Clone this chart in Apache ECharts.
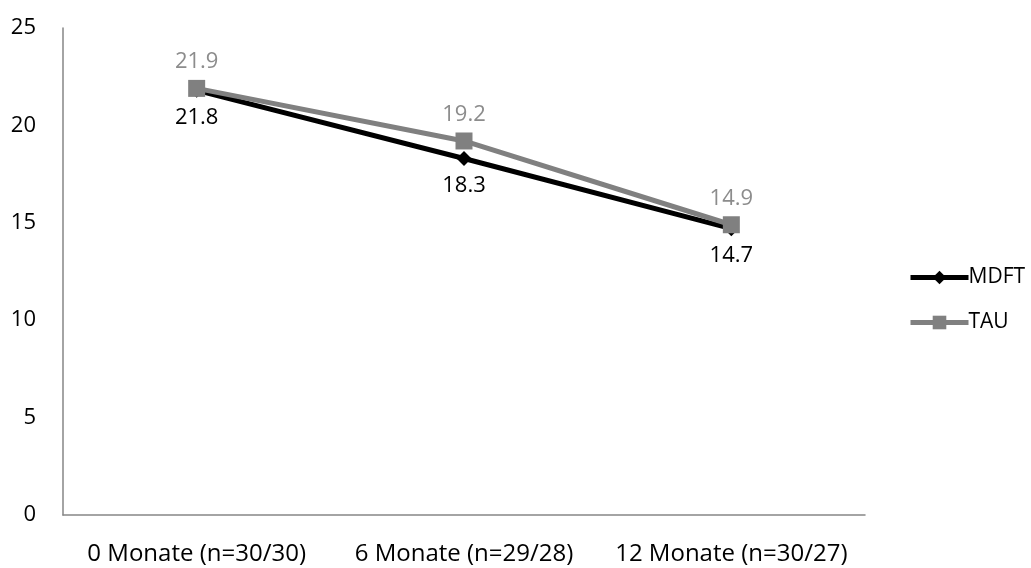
<!DOCTYPE html>
<html><head><meta charset="utf-8">
<script src="https://cdn.jsdelivr.net/npm/echarts@6/dist/echarts.min.js"></script>
<style>html,body{margin:0;padding:0;background:#fff}#c{width:1031px;height:568px}</style>
</head><body><div id="c"></div>
<script>
const categories = ["0 Monate (n=30/30)", "6 Monate (n=29/28)", "12 Monate (n=30/27)"];
const mdft = [21.8, 18.3, 14.7];
const tau = [21.9, 19.2, 14.9];
const yTicks = {min: 0, max: 25, interval: 5};
const font = "'Open Sans', sans-serif";
const fs = 21;
const chart = echarts.init(document.getElementById('c'));
chart.setOption({
  animation: false,
  grid: {left: 63, right: 166, top: 28, bottom: 53},
  xAxis: {
    type: 'category', data: categories, boundaryGap: true,
    axisLine: {lineStyle: {color: '#868686', width: 1.5}},
    axisTick: {show: false},
    axisLabel: {color: '#000', fontSize: 24, fontFamily: font, margin: 27, interval: 0, hideOverlap: false}
  },
  yAxis: {
    type: 'value', min: yTicks.min, max: yTicks.max, interval: yTicks.interval,
    axisLine: {show: true, lineStyle: {color: '#868686', width: 1.5}},
    axisTick: {show: false},
    splitLine: {show: false},
    axisLabel: {color: '#000', fontSize: 22, fontFamily: font, margin: 27}
  },
  legend: {
    orient: 'vertical', left: 903, top: 262, itemGap: 24, itemWidth: 58, itemHeight: 17,
    lineStyle: {width: 5},
    textStyle: {color: '#000', fontSize: fs, fontFamily: font, padding: [0,0,0,-5]},
    data: ['MDFT', 'TAU']
  },
  series: [
    {
      name: 'MDFT', type: 'line', data: mdft, z: 2,
      symbol: 'diamond', symbolSize: 15,
      lineStyle: {color: '#000', width: 5},
      itemStyle: {color: '#000'},
      label: {show: true, position: 'bottom', distance: 9, color: '#000', fontSize: 22, fontFamily: font}
    },
    {
      name: 'TAU', type: 'line', data: tau, z: 3,
      symbol: 'rect', symbolSize: 17,
      lineStyle: {color: '#808080', width: 5},
      itemStyle: {color: '#808080'},
      label: {show: true, position: 'top', distance: 7, color: '#8c8c8c', fontSize: 22, fontFamily: font}
    }
  ]
});
</script></body></html>
